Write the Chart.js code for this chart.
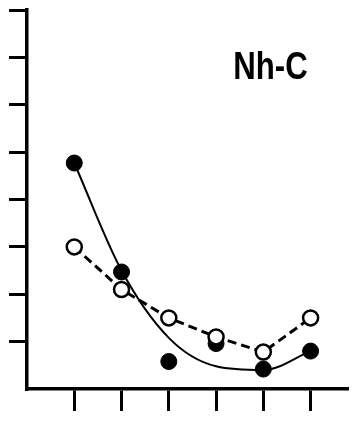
<!DOCTYPE html>
<html>
<head>
<meta charset="utf-8">
<script src="https://cdn.jsdelivr.net/npm/chart.js@4/dist/chart.umd.min.js"></script>
<style>
  html, body { margin: 0; padding: 0; background: #fff; }
  #wrap { width: 357px; height: 425px; }
</style>
</head>
<body>
<div id="wrap"><canvas id="grafico"></canvas></div>
<script>
// valores lidos por posição no eixo x (1..6)
const posicoes = [1, 2, 3, 4, 5, 6];
const cheios = [4.77, 2.47, 0.58, 0.96, 0.42, 0.80];
const abertos = [3.0, 2.1, 1.5, 1.1, 0.78, 1.5];
// curva ajustada aos pontos cheios
const curva = [4.77, 2.5, 1.08, 0.48, 0.40, 0.80];
const ticksX = [1, 2, 3, 4, 5, 6];
const ticksY = [1, 2, 3, 4, 5, 6, 7, 8];
const rotulo = 'Nh-C';
const posRotulo = { x: 5.15, y: 6.78 };

const pares = (ys) => posicoes.map((x, i) => ({ x: x, y: ys[i] }));

// escreve o rótulo dentro da área do gráfico, em letra condensada
const rotuloPlugin = {
  id: 'rotulo',
  afterDraw(chart) {
    const { ctx, scales } = chart;
    const px = scales.x.getPixelForValue(posRotulo.x);
    const py = scales.y.getPixelForValue(posRotulo.y);
    ctx.save();
    ctx.translate(px, py);
    ctx.scale(0.8, 1);
    ctx.font = 'bold 39px "Liberation Sans", Arial, sans-serif';
    ctx.fillStyle = '#000';
    ctx.textAlign = 'center';
    ctx.textBaseline = 'middle';
    ctx.fillText(rotulo, 0, 0);
    ctx.restore();
  }
};

new Chart(document.getElementById('grafico'), {
  type: 'scatter',
  data: {
    datasets: [
      {
        data: pares(curva),
        showLine: true,
        borderColor: '#000',
        borderWidth: 2,
        cubicInterpolationMode: 'monotone',
        pointRadius: 0,
        order: 3
      },
      {
        data: pares(cheios),
        showLine: false,
        backgroundColor: '#000',
        borderColor: '#000',
        borderWidth: 1,
        pointRadius: 8,
        order: 2
      },
      {
        data: pares(abertos),
        showLine: true,
        borderColor: '#000',
        borderWidth: 3,
        borderDash: [9, 5],
        tension: 0,
        backgroundColor: '#fff',
        pointBackgroundColor: '#fff',
        pointBorderColor: '#000',
        pointBorderWidth: 2.5,
        pointRadius: 7.5,
        order: 1
      }
    ]
  },
  options: {
    responsive: true,
    maintainAspectRatio: false,
    animation: false,
    clip: false,
    layout: { padding: { left: 9, right: 0, top: 5, bottom: 14 } },
    plugins: {
      legend: { display: false },
      tooltip: { enabled: false },
      title: { display: false }
    },
    scales: {
      x: {
        type: 'linear',
        min: 0,
        max: 6.77,
        afterBuildTicks: (s) => { s.ticks = ticksX.map(v => ({ value: v })); },
        ticks: { display: false },
        grid: { drawOnChartArea: false, drawTicks: true, tickLength: 22, color: '#000', lineWidth: 3 },
        border: { display: true, color: '#000', width: 3.5 }
      },
      y: {
        type: 'linear',
        min: 0,
        max: 8,
        afterBuildTicks: (s) => { s.ticks = ticksY.map(v => ({ value: v })); },
        ticks: { display: false },
        grid: { drawOnChartArea: false, drawTicks: true, tickLength: 18, color: '#000', lineWidth: 3 },
        border: { display: true, color: '#000', width: 3.5 }
      }
    }
  },
  plugins: [rotuloPlugin]
});
</script>
</body>
</html>
